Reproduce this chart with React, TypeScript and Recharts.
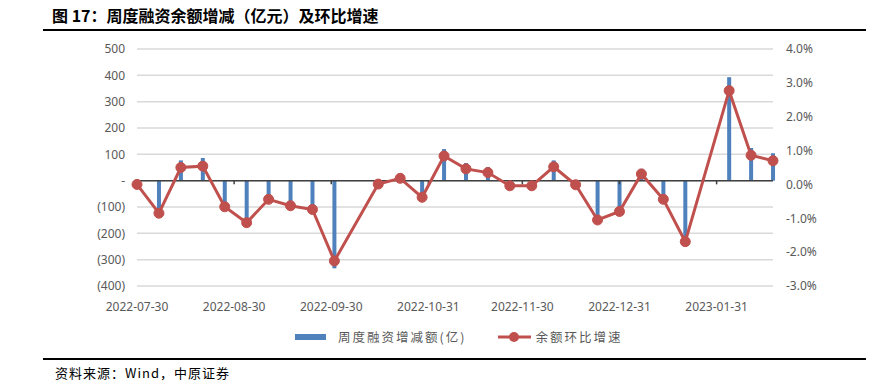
import { Bar, CartesianGrid, ComposedChart, Line, ReferenceLine, XAxis, YAxis } from 'recharts'

// weekly dates (national day / spring festival weeks have no data)
const dates = [
  '2022-07-30', '2022-08-06', '2022-08-13', '2022-08-20', '2022-08-27',
  '2022-09-03', '2022-09-10', '2022-09-17', '2022-09-24', '2022-10-01',
  '2022-10-15', '2022-10-22', '2022-10-29', '2022-11-05', '2022-11-12',
  '2022-11-19', '2022-11-26', '2022-12-03', '2022-12-10', '2022-12-17',
  '2022-12-24', '2022-12-31', '2023-01-07', '2023-01-14', '2023-01-21',
  '2023-02-04', '2023-02-11', '2023-02-18',
]

// 周度融资增减额(亿)
const weeklyChange = [
  2, -122, 77, 86, -95, -160, -64, -92, -108, -333,
  2, 26, -55, 120, 67, 52, -6, -6, 77, -2,
  -148, -116, 45, -64, -230, 393, 124, 104,
]

// 余额环比增速 (%)
const momGrowth = [
  0.0, -0.85, 0.5, 0.54, -0.66, -1.13, -0.44, -0.63, -0.74, -2.26,
  0.01, 0.18, -0.38, 0.84, 0.46, 0.35, -0.04, -0.04, 0.52, -0.01,
  -1.05, -0.8, 0.31, -0.44, -1.69, 2.77, 0.86, 0.7,
]

const xTickLabels = ['2022-07-30', '2022-08-30', '2022-09-30', '2022-10-31', '2022-11-30', '2022-12-31', '2023-01-31']
const leftTicks = [-400, -300, -200, -100, 0, 100, 200, 300, 400, 500]
const rightTicks = [-3, -2, -1, 0, 1, 2, 3, 4]

const toTime = (s: string) => Date.parse(s + 'T00:00:00Z')

const data = dates.map((d, i) => ({ t: toTime(d), change: weeklyChange[i], growth: momGrowth[i] }))
const xTicks = xTickLabels.map(toTime)

const BLUE = '#4F81BD'
const RED = '#C0504D'
const GREY = '#595959'
const FONT = "'Noto Sans', 'Noto Sans CJK SC', sans-serif"
const CJK = "'Noto Sans CJK SC', sans-serif"

const fmtDate = (v: number) => new Date(v).toISOString().slice(0, 10)
const fmtLeft = (v: number) => (v === 0 ? '-' : v < 0 ? `(${Math.abs(v)})` : `${v}`)
const fmtRight = (v: number) => `${v.toFixed(1)}%`

export default function App() {
  return (
    <div style={{ position: 'absolute', left: 0, top: 0, width: 891, height: 381, background: '#fff', fontFamily: FONT }}>
      <div style={{ position: 'absolute', left: 52, top: 3, fontFamily: CJK, fontWeight: 700, fontSize: 16, color: '#000', whiteSpace: 'nowrap' }}>
        图 17：周度融资余额增减（亿元）及环比增速
      </div>
      <div style={{ position: 'absolute', left: 43, top: 29, width: 823, height: 2, background: '#000' }} />

      <ComposedChart
        width={891}
        height={381}
        data={data}
        margin={{ top: 49, right: 58, bottom: 65, left: 77 }}
        style={{ position: 'absolute', left: 0, top: 0 }}
      >
        <CartesianGrid yAxisId='left' vertical={false} stroke='#D9D9D9' strokeWidth={1.5} />
        <XAxis
          dataKey='t'
          type='number'
          scale='time'
          domain={[xTicks[0], data[data.length - 1].t]}
          ticks={xTicks}
          tickFormatter={fmtDate}
          axisLine={false}
          tickLine={false}
          tickMargin={10}
          height={30}
          tick={{ fill: GREY, fontSize: 12, fontFamily: FONT }}
          interval={0}
        />
        <YAxis
          yAxisId='left'
          domain={[-400, 500]}
          ticks={leftTicks}
          tickFormatter={fmtLeft}
          axisLine={false}
          tickLine={false}
          width={60}
          tickMargin={6}
          tick={{ fill: GREY, fontSize: 12, fontFamily: FONT }}
          interval={0}
        />
        <YAxis
          yAxisId='right'
          orientation='right'
          domain={[-3, 4]}
          ticks={rightTicks}
          tickFormatter={fmtRight}
          axisLine={false}
          tickLine={false}
          width={60}
          tickMargin={7}
          tick={{ fill: GREY, fontSize: 12, fontFamily: FONT }}
          interval={0}
        />
        <Bar yAxisId='left' dataKey='change' fill={BLUE} barSize={4} isAnimationActive={false} />
        <ReferenceLine yAxisId='left' y={0} stroke='#404040' strokeWidth={1.5} />
        {xTicks.slice(1).map((t) => (
          <ReferenceLine
            key={t}
            yAxisId='left'
            segment={[{ x: t, y: 0 }, { x: t, y: -14 }]}
            stroke='#404040'
            strokeWidth={1.5}
          />
        ))}
        <Line
          yAxisId='right'
          dataKey='growth'
          type='linear'
          stroke={RED}
          strokeWidth={3}
          dot={{ r: 5, fill: RED, stroke: RED, strokeWidth: 1 }}
          activeDot={false}
          isAnimationActive={false}
        />
      </ComposedChart>

      <div style={{ position: 'absolute', left: 295, top: 327, display: 'flex', alignItems: 'center', fontFamily: CJK, fontSize: 12.5, letterSpacing: 2, color: GREY, whiteSpace: 'nowrap' }}>
        <span style={{ display: 'inline-block', width: 31, height: 6, background: BLUE, marginRight: 12 }} />
        <span>周度融资增减额(亿)</span>
        <svg width={35} height={12} style={{ marginLeft: 31, marginRight: 3 }}>
          <line x1={1} y1={6} x2={34} y2={6} stroke={RED} strokeWidth={3} />
          <circle cx={17} cy={6} r={5} fill={RED} />
        </svg>
        <span>余额环比增速</span>
      </div>

      <div style={{ position: 'absolute', left: 43, top: 358, width: 823, height: 2, background: '#000' }} />
      <div style={{ position: 'absolute', left: 55, top: 363, fontFamily: CJK, fontSize: 13, letterSpacing: 1, color: '#000', whiteSpace: 'nowrap' }}>
        资料来源：Wind，中原证券
      </div>
    </div>
  )
}
